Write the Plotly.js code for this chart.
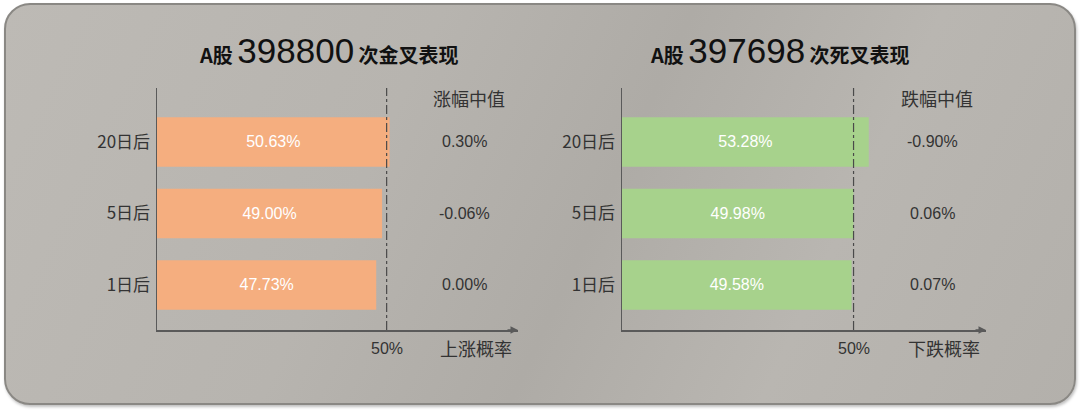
<!DOCTYPE html>
<html>
<head>
<meta charset="utf-8">
<script src="https://cdn.plot.ly/plotly-3.0.1.min.js"></script>
<style>
  html, body { margin: 0; padding: 0; background: #ffffff; }
  #frame {
    position: absolute; left: 4px; top: 3px; width: 1068px; height: 398px;
    border: 2px solid #8a8884; border-radius: 26px;
    background: linear-gradient(115deg, #bdbab5 0%, #b7b4af 35%, #aeaba6 55%, #b9b6b1 75%, #b3b0ab 100%);
    box-shadow: 1px 2px 3px rgba(0,0,0,0.25);
  }
  #chart { position: absolute; left: 0; top: 0; width: 1080px; height: 410px; }
</style>
</head>
<body>
<div id="frame"></div>
<div id="chart"></div>
<script>
  "use strict";

  // categories, bottom to top
  let periods = ['1日后', '5日后', '20日后'];

  // golden cross: probability of rise, median gain
  let upProb = [47.73, 49.00, 50.63];
  let upMedian = ['0.00%', '-0.06%', '0.30%'];
  let upCount = '398800';

  // death cross: probability of fall, median drop
  let downProb = [49.58, 49.98, 53.28];
  let downMedian = ['0.07%', '0.06%', '-0.90%'];
  let downCount = '397698';

  let refLine = 50;           // dashed 50% line
  let xMax = 78.6;            // where the arrow ends
  let cjk = '"Noto Sans CJK SC", "Liberation Sans", sans-serif';
  let ink = '#333333';

  let yDomain = [0.1951, 0.7854];
  let panels = [
    {x: 'x', y: 'y', dom: [157 / 1080, 518 / 1080], titleX: 329 / 1080, vals: upProb, med: upMedian,
     color: '#f5ae7f', count: upCount, tail: '次金叉表现', head: '涨幅中值', foot: '上涨概率'},
    {x: 'x2', y: 'y2', dom: [622 / 1080, 986 / 1080], titleX: 780 / 1080, vals: downProb, med: downMedian,
     color: '#a7d28c', count: downCount, tail: '次死叉表现', head: '跌幅中值', foot: '下跌概率'}
  ];

  let traces = [], shapes = [], annotations = [];
  let layout = {
    width: 1080, height: 410,
    margin: {l: 0, r: 0, t: 0, b: 0},
    paper_bgcolor: 'rgba(0,0,0,0)',
    plot_bgcolor: 'rgba(0,0,0,0)',
    showlegend: false,
    bargap: 0.31,
    font: {family: cjk, color: ink}
  };

  panels.forEach((p, i) => {
    let sfx = i === 0 ? '' : '2';
    traces.push({
      type: 'bar', orientation: 'h',
      x: p.vals, y: periods,
      xaxis: p.x, yaxis: p.y,
      marker: {color: p.color},
      text: p.vals.map(v => v.toFixed(2) + '%'),
      textposition: 'inside', insidetextanchor: 'middle',
      textfont: {family: '"Liberation Sans", Arial, sans-serif', size: 16, color: '#ffffff'},
      hoverinfo: 'none', cliponaxis: false
    });

    layout['xaxis' + sfx] = {
      domain: p.dom, range: [0, xMax], anchor: p.y,
      showgrid: false, zeroline: false, showticklabels: false, ticks: '',
      showline: true, linecolor: '#5a5a5a', linewidth: 1.5
    };
    layout['yaxis' + sfx] = {
      domain: yDomain, range: [-0.63, 2.755], anchor: p.x,
      type: 'category', categoryarray: periods,
      showgrid: false, zeroline: false, ticks: '',
      showline: true, linecolor: '#5a5a5a', linewidth: 1.5,
      tickfont: {family: cjk, size: 17, color: ink}, ticklabelstandoff: 2
    };

    // dashed 50% reference
    shapes.push({
      type: 'line', xref: p.x, yref: 'paper',
      x0: refLine, x1: refLine, y0: yDomain[0], y1: yDomain[1],
      line: {color: '#4a4a4a', width: 1.2, dash: 'dashdot'}
    });

    // arrow at the end of the x axis
    annotations.push({
      xref: p.x, yref: 'paper', x: xMax, y: yDomain[0],
      axref: 'pixel', ayref: 'pixel', ax: -12, ay: 0,
      text: '', showarrow: true, arrowhead: 2, arrowsize: 1, arrowwidth: 1.5,
      arrowcolor: '#5a5a5a'
    });

    // title
    annotations.push({
      xref: 'paper', yref: 'paper',
      x: p.titleX, y: 1 - 50 / 410,
      xanchor: 'center', yanchor: 'middle', showarrow: false,
      text: '<b>A股</b> <span style="font-size:35px;font-family:Liberation Sans">' + p.count +
            '</span> <b>' + p.tail + '</b>',
      font: {family: cjk, size: 20, color: '#111111'}
    });

    // median column
    annotations.push({
      xref: p.x, yref: 'paper', x: 68, y: 1 - 98 / 410,
      xanchor: 'center', yanchor: 'middle', showarrow: false,
      text: p.head, font: {family: cjk, size: 18, color: ink}
    });
    p.med.forEach((m, k) => {
      annotations.push({
        xref: p.x, yref: p.y, x: 67, y: periods[k],
        xanchor: 'center', yanchor: 'middle', showarrow: false,
        text: m, font: {family: '"Liberation Sans", Arial, sans-serif', size: 16, color: ink}
      });
    });

    // axis labels under the x axis
    annotations.push({
      xref: p.x, yref: 'paper', x: refLine, y: 1 - 348 / 410,
      xanchor: 'center', yanchor: 'middle', showarrow: false,
      text: '50%', font: {family: '"Liberation Sans", Arial, sans-serif', size: 16, color: ink}
    });
    annotations.push({
      xref: p.x, yref: 'paper', x: 69.5, y: 1 - 348 / 410,
      xanchor: 'center', yanchor: 'middle', showarrow: false,
      text: p.foot, font: {family: cjk, size: 18, color: ink}
    });
  });

  layout.shapes = shapes;
  layout.annotations = annotations;

  Plotly.newPlot('chart', traces, layout, {displayModeBar: false, staticPlot: true});
</script>
</body>
</html>
